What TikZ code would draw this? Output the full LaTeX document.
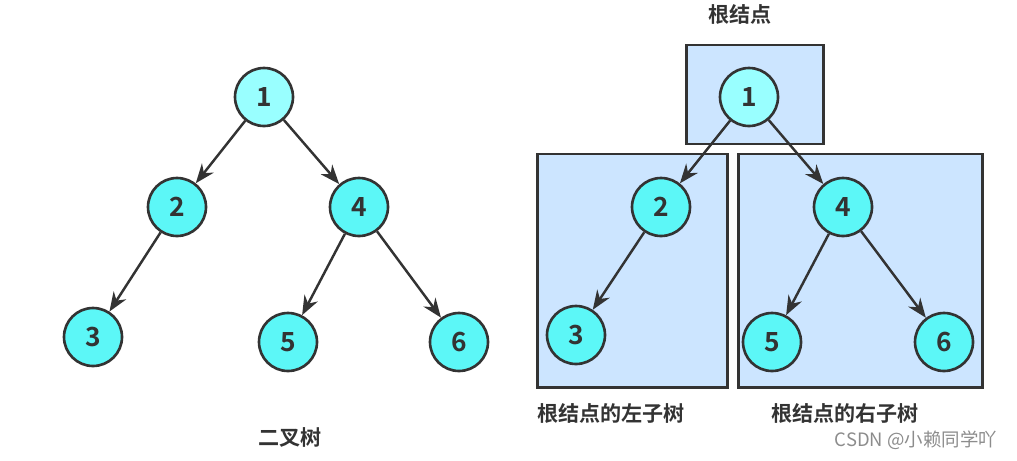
\documentclass[tikz,border=0pt]{standalone}
\usepackage{fontspec}
\setmainfont{Noto Sans CJK SC}[BoldFont={* Bold}]
\newfontfamily\cjkb{Noto Sans CJK SC Bold}
\usetikzlibrary{arrows.meta}
\definecolor{rootfill}{HTML}{99FFFF}
\definecolor{nodefill}{HTML}{5CF7F7}
\definecolor{boxfill}{HTML}{CCE5FF}
\definecolor{ink}{HTML}{333333}
\tikzset{
  tn/.style={circle,draw=ink,line width=1.5pt,fill=nodefill,minimum size=0.58cm*2,inner sep=0pt,font=\cjkb\fontsize{15}{15}\selectfont,text=ink},
  rn/.style={tn,fill=rootfill},
  edge/.style={draw=ink,line width=1.4pt,-{Stealth[length=11pt,width=8.5pt]}},
  sbox/.style={draw=ink,line width=1.7pt,fill=boxfill,inner sep=0pt},
  lbl/.style={font=\cjkb\fontsize{12}{14}\selectfont,text=ink}
}
\begin{document}
\begin{tikzpicture}[x=0.02cm,y=-0.02cm]
\useasboundingbox (0,0) rectangle (1017,460);
% left tree
\node[rn] (a1) at (264,97) {1};
\node[tn] (a2) at (177,207) {2};
\node[tn] (a4) at (359,207) {4};
\node[tn] (a3) at (93,337) {3};
\node[tn] (a5) at (288,342) {5};
\node[tn] (a6) at (459,342) {6};
\draw[edge] (a1) -- (a2);
\draw[edge] (a1) -- (a4);
\draw[edge] (a2) -- (a3);
\draw[edge] (a4) -- (a5);
\draw[edge] (a4) -- (a6);
\node[lbl] (lt) at (290,437) {二叉树};
% right tree boxes
\node[sbox,minimum width=137*0.02cm,minimum height=99*0.02cm] (btop) at (754.5,94.5) {};
\node[sbox,minimum width=190*0.02cm,minimum height=233*0.02cm] (bleft) at (632,270.5) {};
\node[sbox,minimum width=244*0.02cm,minimum height=233*0.02cm] (bright) at (860,270.5) {};
\node[rn] (b1) at (749,97) {1};
\node[tn] (b2) at (661,207) {2};
\node[tn] (b4) at (843,207) {4};
\node[tn] (b3) at (576,335) {3};
\node[tn] (b5) at (772,342) {5};
\node[tn] (b6) at (944,342) {6};
\draw[edge] (b1) -- (b2);
\draw[edge] (b1) -- (b4);
\draw[edge] (b2) -- (b3);
\draw[edge] (b4) -- (b5);
\draw[edge] (b4) -- (b6);
\node[lbl] (lroot) at (740,14) {根结点};
\node[lbl] (lleft) at (611,413) {根结点的左子树};
\node[lbl] (lright) at (845,413) {根结点的右子树};
\node[font=\fontsize{10.5}{12}\selectfont,text=black!45] (wm) at (916,440) {CSDN @小赖同学吖};
\end{tikzpicture}
\end{document}
